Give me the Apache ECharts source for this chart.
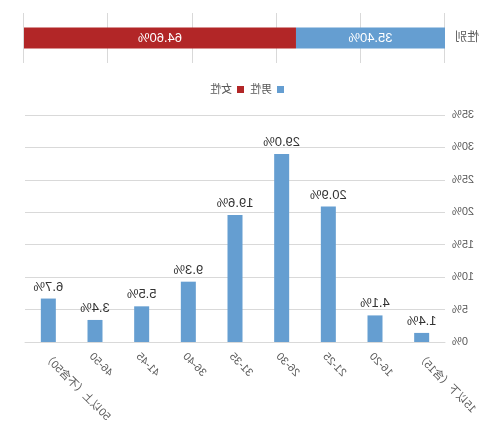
<!DOCTYPE html>
<html><head><meta charset="utf-8">
<script src="https://cdn.jsdelivr.net/npm/echarts@6/dist/echarts.min.js"></script>
<style>html,body{margin:0;padding:0;background:#fff}#c{width:494px;height:429px;transform:scaleX(-1)}</style>
</head><body><div id="c"></div>
<script>
var genderCat = ['性别'];
var male = [35.40];
var female = [64.60];
var ageCats = ['15以下（含15）','16-20','21-25','26-30','31-35','36-40','41-45','46-50','50以上（不含50）'];
var ageVals = [1.4, 4.1, 20.9, 29.0, 19.6, 9.3, 5.5, 3.4, 6.7];

var chart = echarts.init(document.getElementById('c'));
var txt = '#595959', grid = '#d9d9d9';
chart.setOption({
  animation: false,
  textStyle: {fontFamily: '"Liberation Sans", "Noto Sans CJK SC", sans-serif'},
  legend: {data: ['男性','女性'], top: 79, left: 'center', itemWidth: 7, itemHeight: 7, itemGap: 6,
    icon: 'rect', textStyle: {color: txt, fontSize: 11}},
  grid: [
    {left: 49, right: 24, top: 13, height: 50},
    {left: 49, right: 25, top: 115, height: 227}
  ],
  xAxis: [
    {gridIndex: 0, type: 'value', min: 0, max: 100, interval: 20,
      axisLabel: {show: false}, axisLine: {show: false}, axisTick: {show: false},
      splitLine: {lineStyle: {color: grid}}},
    {gridIndex: 1, type: 'category', data: ageCats,
      axisLine: {lineStyle: {color: grid}}, axisTick: {show: false},
      axisLabel: {rotate: 45, interval: 0, color: txt, fontSize: 11, margin: 9, verticalAlign: 'top'}}
  ],
  yAxis: [
    {gridIndex: 0, type: 'category', data: genderCat,
      axisLine: {show: false}, axisTick: {show: false},
      axisLabel: {color: txt, fontSize: 12, margin: 10}},
    {gridIndex: 1, type: 'value', min: 0, max: 35, interval: 5,
      axisLine: {show: false}, axisTick: {show: false},
      axisLabel: {color: txt, fontSize: 11, margin: 7, formatter: '{value}%'},
      splitLine: {lineStyle: {color: grid}}}
  ],
  series: [
    {name: '男性', type: 'bar', stack: 'g', xAxisIndex: 0, yAxisIndex: 0, data: male, barWidth: 21,
      itemStyle: {color: '#659ed1'},
      label: {show: true, position: 'inside', color: '#fff', fontSize: 13,
        formatter: function(p){return p.value.toFixed(2)+'%';}}},
    {name: '女性', type: 'bar', stack: 'g', xAxisIndex: 0, yAxisIndex: 0, data: female, barWidth: 21,
      itemStyle: {color: '#b22627'},
      label: {show: true, position: 'inside', color: '#fff', fontSize: 13,
        formatter: function(p){return p.value.toFixed(2)+'%';}}},
    {name: '年龄', type: 'bar', xAxisIndex: 1, yAxisIndex: 1, data: ageVals, barWidth: 15,
      itemStyle: {color: '#659ed1'},
      label: {show: true, position: 'top', color: '#333', fontSize: 13, distance: 5,
        formatter: function(p){return p.value.toFixed(1)+'%';}}}
  ]
});
</script></body></html>
